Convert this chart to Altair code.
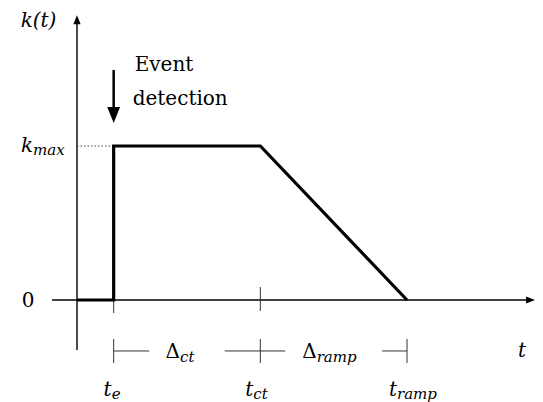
import altair as alt
import pandas as pd

# ---------------- values of the schematic ----------------
event_times = [1, 5, 9]              # t_e, t_ct, t_ramp
event_subs = ["e", "ct", "ramp"]     # subscripts of the time labels
k_max = 1                            # plateau level
k_zero = 0
delta_subs = ["ct", "ramp"]          # Δ_ct, Δ_ramp
event_words = ["Event", "detection"]

te, tct, tramp = event_times

# ---------------- layout calibration ----------------
W, H = 527, 394
PXX = 330 / 9.0          # px per time unit
PXY = 154.0              # px per k unit
XMIN = -69 / PXX
XMAX = XMIN + W / PXX
YMAX = 292 / PXY
YMIN = YMAX - H / PXY

xs = alt.Scale(domain=[XMIN, XMAX], nice=False, zero=False)
ys = alt.Scale(domain=[YMIN, YMAX], nice=False, zero=False)

FONT = "DejaVu Serif"


def seg_layer(rows, **mark):
    df = pd.DataFrame(rows, columns=["t", "k", "t2", "k2"])
    return alt.Chart(df).mark_rule(**mark).encode(
        x=alt.X("t:Q", scale=xs, axis=None),
        y=alt.Y("k:Q", scale=ys, axis=None),
        x2="t2:Q",
        y2="k2:Q",
    )


def txt(x, y, s, dx, dy, size, italic=True, align="left"):
    df = pd.DataFrame({"t": [x], "k": [y], "s": [s]})
    return alt.Chart(df).mark_text(
        dx=dx, dy=dy, fontSize=size, font=FONT,
        fontStyle="italic" if italic else "normal",
        align=align, baseline="alphabetic", color="black",
    ).encode(
        x=alt.X("t:Q", scale=xs, axis=None),
        y=alt.Y("k:Q", scale=ys, axis=None),
        text="s:N",
    )


def head(x, y, shape, size):
    df = pd.DataFrame({"t": [x], "k": [y]})
    return alt.Chart(df).mark_point(
        shape=shape, size=size, filled=True, color="black", opacity=1, strokeWidth=0
    ).encode(
        x=alt.X("t:Q", scale=xs, axis=None),
        y=alt.Y("k:Q", scale=ys, axis=None),
    )


# signal k(t)
sig = pd.DataFrame({
    "t": [0, te, te, tct, tramp],
    "k": [k_zero, k_zero, k_max, k_max, k_zero],
    "o": [0, 1, 2, 3, 4],
})
signal = alt.Chart(sig).mark_line(
    color="black", strokeWidth=3.2, strokeJoin="miter", strokeCap="butt"
).encode(
    x=alt.X("t:Q", scale=xs, axis=None),
    y=alt.Y("k:Q", scale=ys, axis=None),
    order="o:Q",
)

x_end = 12.37
y_top = 1.834
axes = seg_layer([
    [-0.68, 0, x_end, 0],
    [0, -0.325, 0, y_top],
], color="black", strokeWidth=1.4)

ticks = seg_layer([
    [te, 0, te, -0.084],
    [tct, 0.084, tct, -0.071],
], color="#333333", strokeWidth=1)

yd = -0.331
mid1 = (te + tct) / 2
mid2 = (tct + tramp) / 2
g1, g2 = 1.03, 1.32
dim = seg_layer([
    [te, yd, mid1 - g1, yd],
    [mid1 + g1, yd, mid2 - g2, yd],
    [mid2 + g2, yd, tramp, yd],
    [te, yd - 0.078, te, yd + 0.078],
    [tct, yd - 0.078, tct, yd + 0.078],
    [tramp, yd - 0.078, tramp, yd + 0.078],
], color="#333333", strokeWidth=1)

dotted = seg_layer([[0, k_max, te, k_max]], color="#444444", strokeWidth=1,
                   strokeDash=[1.5, 2])

shaft = seg_layer([[te, k_max + 0.494, te, k_max + 0.2]], color="black", strokeWidth=2.5)

heads = [
    head(0, y_top - 0.015, "M0,-1L0.8,1L-0.8,1Z", 81),
    head(x_end, 0, "M1,0L-1,-0.8L-1,0.8Z", 81),
    head(te, k_max + 0.201, "M-0.8,-1L0.8,-1L0,1Z", 256),
]

MAIN, SUB = 20, 15
texts = [
    txt(0, k_max, "k(t)", -38.5, -119, MAIN, True, "center"),
    txt(0, k_zero, "0", -49, 7, MAIN, False, "center"),
    txt(0, k_max, "k", -44, 6, MAIN, True, "right"),
    txt(0, k_max, "max", -44, 9, SUB, True, "left"),
    txt(te, k_max, event_words[0], 21, -75, MAIN, False, "left"),
    txt(te, k_max, event_words[1], 19, -41, MAIN, False, "left"),
    txt(x_end, k_zero, "t", -8.5, 57, MAIN, True, "center"),
]
for t, s, d in zip(event_times, event_subs, [-2, -7, -10]):
    texts.append(txt(t, k_zero, "t", d, 96, MAIN, True, "right"))
    texts.append(txt(t, k_zero, s, d, 99, SUB, True, "left"))
for m, s, d in zip([mid1, mid2], delta_subs, [-7, -17]):
    texts.append(txt(m, k_zero, "Δ", d, 58, MAIN, False, "right"))
    texts.append(txt(m, k_zero, s, d, 62, SUB, True, "left"))

chart = alt.layer(
    axes, ticks, dim, dotted, shaft, signal, *heads, *texts
).properties(
    width=W, height=H, padding=0, autosize=alt.AutoSizeParams(type="none")
).configure_view(stroke=None)

chart.save("out.html", embed_options={"renderer": "svg", "actions": False})
